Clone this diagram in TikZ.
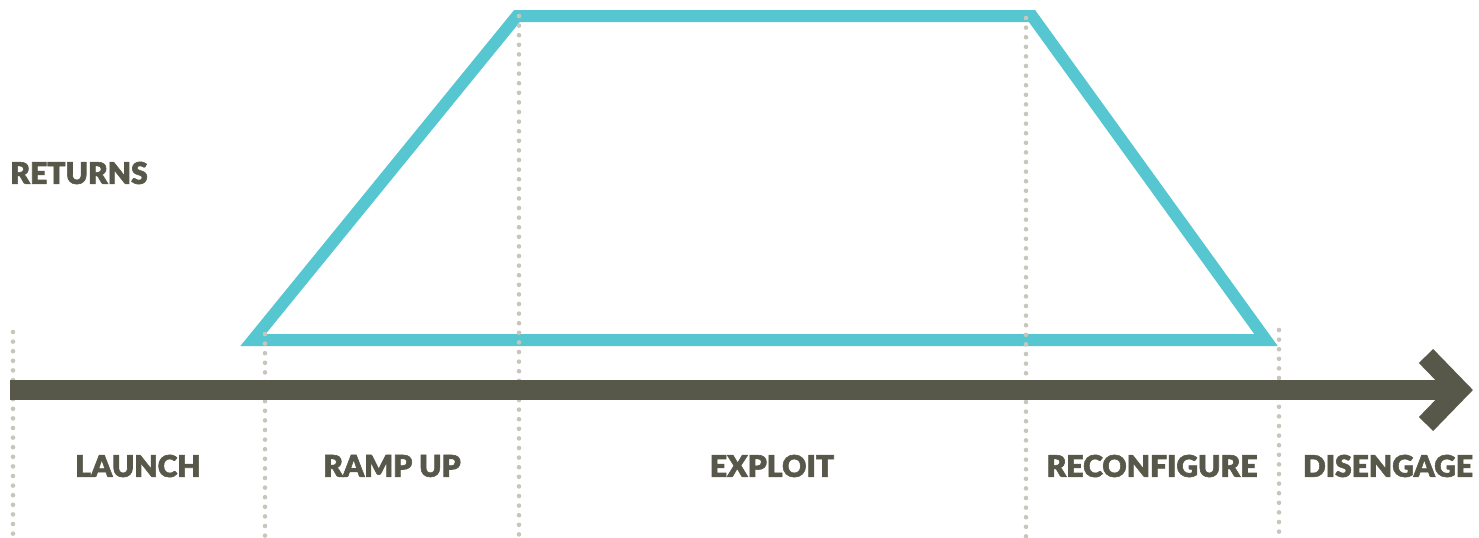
\documentclass[tikz,border=0pt]{standalone}
\usepackage{fontspec}
\newfontfamily\heavy{Lato Black}[FakeBold=2]
\definecolor{returncol}{RGB}{86,198,208}
\definecolor{timecol}{RGB}{88,88,74}
\definecolor{dotcol}{RGB}{200,198,188}
\begin{document}
\begin{tikzpicture}[x=0.5pt,y=-0.5pt,
  phase/.style={text=timecol,font=\heavy\fontsize{15}{15}\selectfont},
  divider/.style={dotcol,line width=2.3pt,line cap=round,dash pattern=on 0pt off 4.8pt}]
\useasboundingbox (0,0) rectangle (1479,537);
% returns over time
\coordinate (r1) at (253,340);
\coordinate (r2) at (517,16);
\coordinate (r3) at (1032,16);
\coordinate (r4) at (1266,340);
\draw[returncol,line width=6pt,line join=miter] (r1)--(r2)--(r3)--(r4)--cycle;
% phase dividers
\coordinate (d0t) at (13,332);   \coordinate (d0b) at (13,537);
\coordinate (d1t) at (265,334);  \coordinate (d1b) at (265,537);
\coordinate (d2t) at (519,16);   \coordinate (d2b) at (519,537);
\coordinate (d3t) at (1026,18);  \coordinate (d3b) at (1026,537);
\coordinate (d4t) at (1279,330); \coordinate (d4b) at (1279,537);
\foreach \i in {0,...,4}
  \draw[divider] (d\i t)--(d\i b);
% time axis
\coordinate (ax0) at (10,390);
\coordinate (ax1) at (1459,390);
\coordinate (tipa) at (1426,356);
\coordinate (tipb) at (1426,424);
\draw[timecol,line width=10pt] (ax0)--(ax1);
\draw[timecol,line width=10pt,line join=miter] (tipa)--(ax1)--(tipb);
% labels
\node[phase,anchor=west,inner sep=0pt] (returns) at (10,173) {RETURNS};
\node[phase] (launch) at (138,466) {LAUNCH};
\node[phase] (rampup) at (392,466) {RAMP UP};
\node[phase] (exploit) at (772,466) {EXPLOIT};
\node[phase] (reconf) at (1152,466) {RECONFIGURE};
\node[phase] (diseng) at (1388,466) {DISENGAGE};
\end{tikzpicture}
\end{document}
